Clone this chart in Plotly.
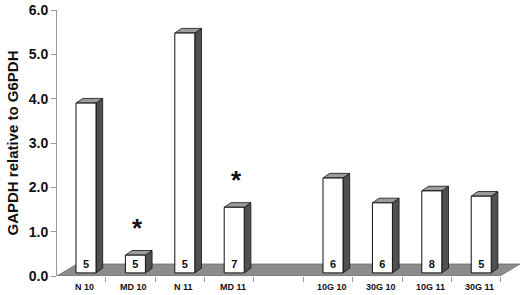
import plotly.graph_objects as go

# ---- data ----
categories = ["N 10", "MD 10", "N 11", "MD 11", "10G 10", "30G 10", "10G 11", "30G 11"]
slots = [0, 1, 2, 3, 5, 6, 7, 8]          # slot 4 is an empty gap
values = [3.90, 0.47, 5.48, 1.55, 2.21, 1.65, 1.92, 1.80]
n_labels = ["5", "5", "5", "7", "6", "6", "8", "5"]
significant = [False, True, False, True, False, False, False, False]
y_ticks = [0, 1, 2, 3, 4, 5, 6]

# ---- geometry (styling) ----
FONT = "Liberation Sans, Arial, sans-serif"
W, H = 520, 295
L, R, T, B = 57, 0, 10, 19
XR = [-0.587, 8.785]
YR = [0, 6.0]
bw = 0.405        # front face width (x units)
dx, dy = 0.135, 0.105   # bar depth offset
base = 0.07
fdx, fdy = 0.405, 0.27  # floor depth

fig = go.Figure()

# floor
fx0, fx1 = XR[0], 8.38
fig.add_trace(go.Scatter(
    x=[fx0, fx1, fx1 + fdx, fx0 + fdx, fx0],
    y=[0, 0, fdy, fdy, 0],
    fill="toself", fillcolor="#8c8c8c", mode="lines",
    line=dict(color="#6a6a6a", width=0.8), hoverinfo="skip", showlegend=False))

for s, v in zip(slots, values):
    xl, xr = s - bw / 2, s + bw / 2
    # side face
    fig.add_trace(go.Scatter(
        x=[xr, xr + dx, xr + dx, xr, xr],
        y=[base, base + dy, v + dy, v, base],
        fill="toself", fillcolor="#505050", mode="lines",
        line=dict(color="#111", width=0.8), hoverinfo="skip", showlegend=False))
    # top face
    fig.add_trace(go.Scatter(
        x=[xl, xr, xr + dx, xl + dx, xl],
        y=[v, v, v + dy, v + dy, v],
        fill="toself", fillcolor="#9c9c9c", mode="lines",
        line=dict(color="#111", width=0.8), hoverinfo="skip", showlegend=False))
    # front face
    fig.add_trace(go.Scatter(
        x=[xl, xr, xr, xl, xl],
        y=[base, base, v, v, base],
        fill="toself", fillcolor="#ffffff", mode="lines",
        line=dict(color="#111", width=1), hoverinfo="skip", showlegend=False))

# n labels inside bars
fig.add_trace(go.Scatter(
    x=slots, y=[0.25] * len(slots), mode="text",
    text=["<b>%s</b>" % t for t in n_labels],
    textfont=dict(family=FONT, size=11, color="#111"),
    textposition="middle center", hoverinfo="skip", showlegend=False))

annotations = []
for s, v, sig in zip(slots, values, significant):
    if sig:
        annotations.append(dict(
            x=s + 0.05, y=v + 0.73, xref="x", yref="y", text="<b>*</b>",
            showarrow=False, font=dict(family=FONT, size=26, color="#111"),
            xanchor="center", yanchor="middle", yshift=-5))

for s, c in zip(slots, categories):
    annotations.append(dict(
        x=s - 0.03, y=0, xref="x", yref="paper", text="<b>%s</b>" % c,
        showarrow=False, font=dict(family=FONT, size=9, color="#111"),
        xanchor="center", yanchor="middle", yshift=-11))

fig.update_layout(
    width=W, height=H, margin=dict(l=L, r=R, t=T, b=B),
    paper_bgcolor="white", plot_bgcolor="white",
    showlegend=False, annotations=annotations,
    xaxis=dict(range=XR, showgrid=False, zeroline=False, showline=False,
               tickvals=[s + 0.4 for s in range(0, 9)], ticks="outside",
               ticklen=5, tickcolor="#999", tickwidth=1, showticklabels=False,
               fixedrange=True),
    yaxis=dict(range=YR, showgrid=False, zeroline=False, showline=True,
               linecolor="#999", linewidth=1, ticks="outside", ticklen=5,
               tickcolor="#999", tickvals=y_ticks,
               ticktext=["<b>%.1f</b>" % t for t in y_ticks],
               tickfont=dict(family=FONT, size=14, color="#111"),
               title=dict(text="<b>GAPDH relative to G6PDH</b>",
                          font=dict(family=FONT, size=15, color="#111"),
                          standoff=6),
               fixedrange=True),
)

fig.write_html("out.html")
